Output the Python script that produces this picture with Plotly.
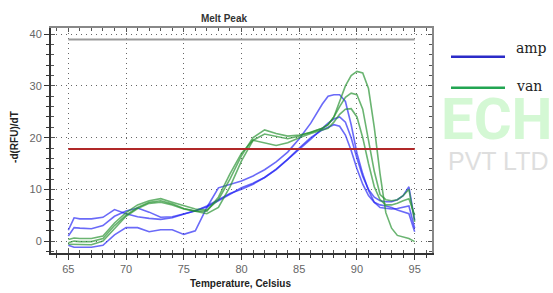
import plotly.graph_objects as go

# ---------------- data ----------------
temps = [65, 65.5] + list(range(66, 87)) + [87 + 0.5 * i for i in range(17)]

amp_1 = [2.1, 4.5, 4.3, 4.3, 4.6, 6.1, 5.3, 4.7, 4.4, 4.2, 4.5, 5.2, 5.8, 6.6, 7.8, 9.0, 10.3, 11.2, 12.3,
         13.8, 15.8, 18.0, 20.0,
         21.5, 22.0, 22.5, 22.2, 20.5, 17.5, 14.0, 11.0, 8.8, 7.5, 7.0, 6.8, 6.5, 6.0, 5.6, 5.3, 1.8]
amp_2 = [1.0, 2.6, 2.5, 2.4, 3.0, 4.8, 5.8, 6.4, 5.6, 4.6, 4.7, 5.2, 5.8, 6.8, 8.0, 9.2, 10.0, 11.0, 12.3,
         13.9, 15.8, 17.7, 19.7,
         21.8, 22.8, 23.6, 24.0, 23.0, 20.0, 16.0, 12.5, 10.0, 8.5, 7.8, 7.6, 7.6, 8.0, 8.8, 10.5, 4.0]
amp_3 = [-0.8, -1.2, -1.2, -1.2, -0.8, 1.2, 2.6, 2.6, 1.8, 2.2, 2.2, 1.3, 2.0, 6.5, 10.3, 11.0, 11.6, 12.6, 13.8,
         15.3, 17.2, 19.8, 22.8,
         26.5, 28.0, 28.3, 28.3, 27.0, 22.5, 17.0, 13.0, 9.8, 7.5, 6.5, 6.3, 6.2, 6.3, 6.5, 6.8, 2.5]

van_1 = [0.3, 0.6, 0.5, 0.5, 1.0, 3.5, 5.5, 7.0, 7.8, 8.2, 7.5, 6.8, 6.2, 6.0, 8.0, 12.0, 16.5, 20.0, 21.5,
         20.8, 20.3, 20.5, 21.0,
         21.8, 22.5, 24.0, 27.0, 30.0, 32.0, 32.8, 32.5, 29.5, 22.0, 13.0, 5.5, 2.5, 1.1, 0.8, 0.5, -0.1]
van_2 = [-0.3, 0.0, -0.1, -0.1, 0.5, 3.0, 5.0, 6.5, 7.5, 7.8, 7.2, 6.3, 5.8, 5.3, 6.5, 10.5, 15.5, 19.5, 20.7,
         20.2, 19.8, 20.3, 21.0,
         21.8, 22.5, 24.0, 26.0, 27.8, 28.6, 28.3, 25.5, 19.5, 13.5, 9.0, 8.0, 7.8, 8.0, 8.8, 10.0, 3.7]
van_3 = [-0.6, -0.6, -0.7, -0.7, 0.0, 2.5, 4.8, 6.3, 7.3, 7.5, 7.0, 6.2, 5.8, 5.8, 8.5, 13.0, 17.0, 19.5, 19.0,
         18.5, 19.0, 20.0, 20.8,
         21.5, 21.8, 23.0, 24.5, 25.5, 25.6, 24.0, 20.0, 15.0, 10.5, 8.0, 7.0, 7.0, 7.3, 7.8, 8.2, 5.0]

amp_series = [amp_1, amp_2, amp_3]
van_series = [van_1, van_2, van_3]

threshold_value = 17.8
upper_line_value = 39.0
line_span = [65, 95]

x_ticks = [65, 70, 75, 80, 85, 90, 95]
y_ticks = [0, 10, 20, 30, 40]

legend_labels = ["amp", "van"]
chart_title = "Melt Peak"
x_title = "Temperature, Celsius"
y_title = "-d(RFU)/dT"

# ---------------- figure ----------------
AMP_COLOR = "rgba(35,35,245,0.68)"
VAN_COLOR = "rgba(35,145,45,0.68)"

fig = go.Figure()
for s in amp_series:
    fig.add_trace(go.Scatter(x=temps, y=s, mode="lines", line=dict(color=AMP_COLOR, width=1.6),
                             showlegend=False, hoverinfo="skip"))
for s in van_series:
    fig.add_trace(go.Scatter(x=temps, y=s, mode="lines", line=dict(color=VAN_COLOR, width=1.6),
                             showlegend=False, hoverinfo="skip"))
# empty trace so the overlay axes exist
fig.add_trace(go.Scatter(x=[], y=[], xaxis="x2", yaxis="y2", showlegend=False))

XR = [63.5, 96.5]
YR = [-2.3, 41.2]
tickfont = dict(family="Liberation Sans, Arial, sans-serif", size=11, color="#666")

fig.update_layout(
    width=553, height=293,
    margin=dict(l=51, r=121, t=28, b=40),
    paper_bgcolor="white", plot_bgcolor="white",
    showlegend=False,
    title=dict(text="<b>" + chart_title + "</b>", x=224 / 553, y=1 - 18 / 293, xref="container",
               yref="container", xanchor="center", yanchor="middle",
               font=dict(family="Liberation Sans, Arial, sans-serif", size=10, color="#333")),
    xaxis=dict(range=XR, tickvals=x_ticks, showticklabels=False, ticks="inside", ticklen=4,
               tickcolor="#555", mirror="ticks", showline=True, linecolor="#888", linewidth=2,
               showgrid=True, gridcolor="#666", gridwidth=1, griddash="1px,4px", zeroline=False,
               minor=dict(dtick=1, tick0=65, ticks="inside", ticklen=3, tickcolor="#555", showgrid=False)),
    yaxis=dict(range=YR, tickvals=y_ticks, showticklabels=False, ticks="inside", ticklen=4,
               tickcolor="#555", mirror="ticks", showline=True, linecolor="#888", linewidth=2,
               showgrid=True, gridcolor="#666", gridwidth=1, griddash="1px,4px", zeroline=False,
               minor=dict(dtick=2, tick0=0, ticks="inside", ticklen=3, tickcolor="#555", showgrid=False)),
    xaxis2=dict(range=XR, overlaying="x", anchor="y2", side="bottom", tickvals=x_ticks,
                ticks="outside", ticklen=5, tickcolor="#333", showline=True, linecolor="#333",
                linewidth=2, showgrid=False, zeroline=False, tickfont=tickfont,
                minor=dict(dtick=1, tick0=65, ticks="outside", ticklen=3, tickcolor="#333")),
    yaxis2=dict(range=YR, overlaying="y", anchor="x2", side="left", tickvals=y_ticks,
                ticks="outside", ticklen=5, tickcolor="#333", showline=True, linecolor="#333",
                linewidth=2, showgrid=False, zeroline=False, tickfont=tickfont,
                minor=dict(dtick=2, tick0=0, ticks="outside", ticklen=3, tickcolor="#333")),
)

# reference lines
fig.add_shape(type="line", xref="x", yref="y", x0=line_span[0], x1=line_span[1],
              y0=upper_line_value, y1=upper_line_value, line=dict(color="#9a9a9a", width=2))
fig.add_shape(type="line", xref="x", yref="y", x0=line_span[0], x1=line_span[1],
              y0=threshold_value, y1=threshold_value, line=dict(color="#b02828", width=2))

# axis titles
title_font = dict(family="Liberation Sans, Arial, sans-serif", size=10, color="#222")
fig.add_annotation(text="<b>" + x_title + "</b>", xref="paper", yref="paper", x=0.497, y=-0.135,
                   xanchor="center", yanchor="middle", showarrow=False, font=title_font)
fig.add_annotation(text="<b>" + y_title + "</b>", xref="paper", yref="paper", x=-0.0945, y=0.516,
                   xanchor="center", yanchor="middle", textangle=-90, showarrow=False, font=title_font)

# watermark
fig.add_annotation(text="<b>ECH</b>", xref="paper", yref="paper", x=(439 - 51) / 381, y=(253 - 119) / 225,
                   xanchor="left", yanchor="middle", showarrow=False,
                   font=dict(family="Roboto, sans-serif", size=58, color="#d4f8d4"))
fig.add_annotation(text="PVT LTD", xref="paper", yref="paper", x=(446 - 51) / 381, y=(253 - 160.5) / 225,
                   xanchor="left", yanchor="middle", showarrow=False,
                   font=dict(family="Liberation Sans, Arial, sans-serif", size=25, color="#dedede"))

# custom legend
legend_colors = ["#2b2bc8", "#22a552"]
legend_line_y = [56.7, 87.7]
legend_text_y = [47.7, 86.0]
for lab, col, ly, ty in zip(legend_labels, legend_colors, legend_line_y, legend_text_y):
    fig.add_shape(type="line", xref="paper", yref="paper", x0=(451 - 51) / 381, x1=(505 - 51) / 381,
                  y0=(253 - ly) / 225, y1=(253 - ly) / 225, line=dict(color=col, width=2.5))
    fig.add_annotation(text=lab, xref="paper", yref="paper", x=(514 - 51) / 381, y=(253 - ty) / 225,
                       xanchor="left", yanchor="middle", showarrow=False,
                       font=dict(family="DejaVu Serif, serif", size=14, color="#222"))

fig.write_html("out.html", config={"displayModeBar": False},
               post_script="document.body.style.margin='0';document.body.style.overflow='hidden';")
